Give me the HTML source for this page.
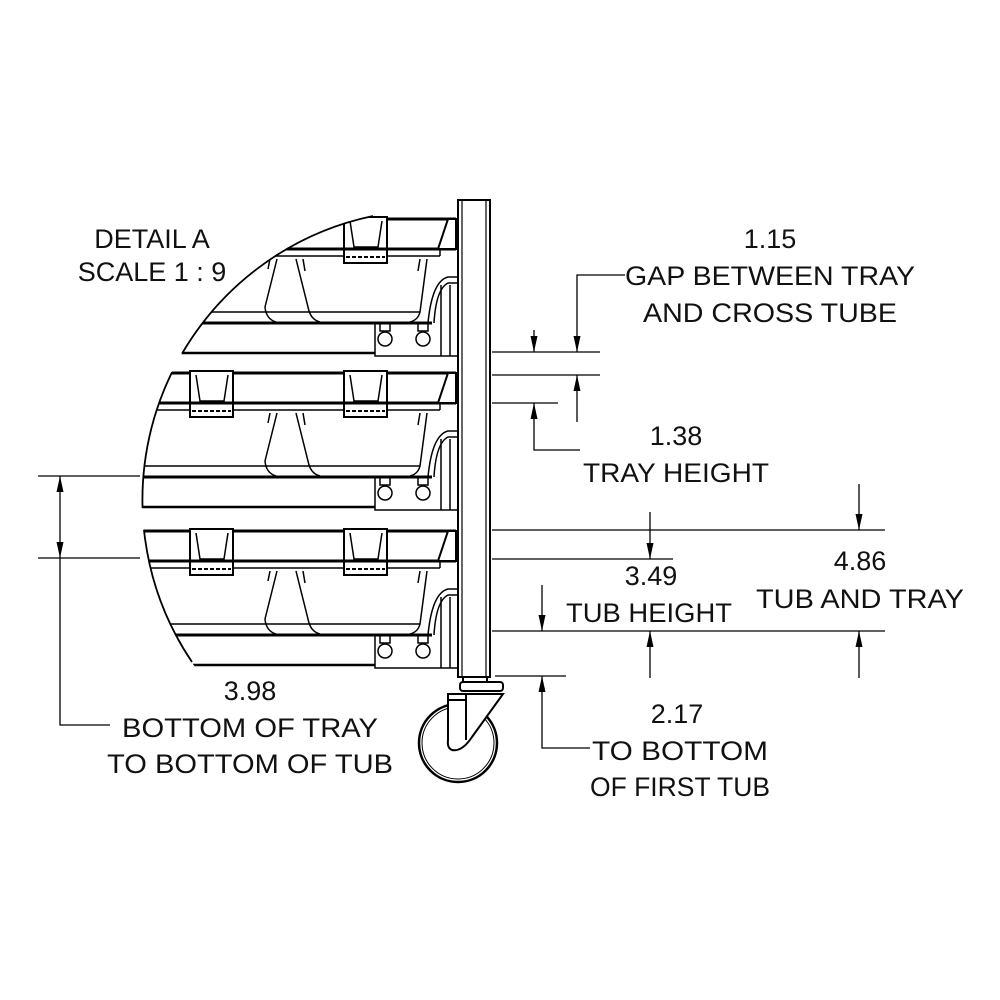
<!DOCTYPE html>
<html><head><style>
html,body{margin:0;padding:0;background:#fff;}
svg{display:block}
text{font-family:"Liberation Sans",sans-serif;font-size:27px;fill:#111;text-anchor:middle}
</style></head><body>
<svg width="1000" height="1000" viewBox="0 0 1000 1000" xmlns="http://www.w3.org/2000/svg">
<defs>
<clipPath id="c"><circle cx="432" cy="500" r="290"/></clipPath>
<clipPath id="bands">
  <rect x="0" y="200" width="500" height="153"/>
  <rect x="0" y="372" width="500" height="136"/>
  <rect x="0" y="530" width="500" height="136"/>
</clipPath>
<marker id="a" viewBox="0 0 10 10" refX="10" refY="5" markerWidth="16" markerHeight="7" preserveAspectRatio="none" orient="auto" markerUnits="userSpaceOnUse"><path d="M0,0 L10,5 L0,10z" fill="#000"/></marker>
<g id="row" fill="none" stroke="#000" stroke-width="1.5">
  <line x1="100" y1="0" x2="456" y2="0" stroke-width="3"/>
  <line x1="100" y1="30" x2="456" y2="30" stroke-width="3"/>
  <path d="M448,0 L456,0 L456,30 L438,30 Z" fill="#fff" stroke-width="2"/>
  <line x1="100" y1="37" x2="440" y2="37"/>
  <line x1="440" y1="30" x2="440" y2="37"/>
  <g id="clip">
   <rect x="190" y="-2" width="43" height="46" fill="#fff" stroke-width="2"/>
   <path d="M196,2 L200,28 L224,28 L228,2" />
   <line x1="190" y1="30" x2="233" y2="30" stroke-width="3"/>
   <line x1="192" y1="38" x2="231" y2="38" stroke-width="2" stroke-dasharray="4 2"/>
  </g>
  <use href="#clip" x="154"/>
  <path d="M277,40 L265,88 Q266,100 276,103"/>
  <path d="M270,40 L268,50"/>
  <path d="M296,40 L309,92 Q312,101 320,103"/>
  <path d="M303,40 L305,52"/>
  <path d="M427,40 L420,93 Q418,101 410,103"/>
  <path d="M420,40 L418,52"/>
  <line x1="100" y1="93" x2="420" y2="93"/>
  <line x1="100" y1="104" x2="432" y2="104" stroke-width="3"/>
  <line x1="100" y1="134" x2="375" y2="134" stroke-width="2.5"/>
  <path d="M375,104 L375,137 L458,137"/>
  <circle cx="385" cy="120" r="7" fill="#fff"/>
  <circle cx="423" cy="120" r="7" fill="#fff"/>
  <rect x="380" y="104" width="10" height="8"/>
  <rect x="418" y="104" width="10" height="8"/>
  <path d="M428,104 Q432,62 448,58 L458,58"/>
  <path d="M434,104 Q436,70 448,64 L458,64"/>
  <line x1="441" y1="66" x2="441" y2="137"/>
  <line x1="450" y1="66" x2="450" y2="137"/>
</g>
</defs>

<g clip-path="url(#c)">
  <use href="#row" y="219"/>
  <use href="#row" y="373"/>
  <use href="#row" y="531"/>
</g>
<path d="M373,216 A290,290 0 0 0 192,662" fill="none" stroke="#000" stroke-width="1.8" clip-path="url(#bands)"/>

<g fill="none" stroke="#000" stroke-width="2">
  <rect x="458" y="200" width="32" height="477" fill="#fff"/>
  <line x1="462" y1="200" x2="462" y2="677" stroke-width="1.2"/>
  <line x1="486" y1="200" x2="486" y2="677" stroke-width="1.2"/>
  <rect x="463" y="677" width="24" height="5"/>
  <rect x="460" y="682" width="43" height="9" rx="3"/>
  <circle cx="458" cy="743" r="39" stroke-width="2.5"/>
  <circle cx="458" cy="743" r="36" stroke-width="1"/>
  <path d="M448,694 L503,694 L472,737 Q462,752 452,750 Q447,748 448,740 Z" fill="#fff"/>
  <line x1="466" y1="694" x2="466" y2="740"/>
  <line x1="449" y1="700" x2="466" y2="700"/>
</g>

<g stroke="#000" stroke-width="1.3" fill="none">
  <line x1="492" y1="352" x2="600" y2="352"/>
  <line x1="492" y1="375" x2="600" y2="375"/>
  <line x1="492" y1="403" x2="558" y2="403"/>
  <line x1="492" y1="530" x2="885" y2="530"/>
  <line x1="492" y1="559" x2="673" y2="559"/>
  <line x1="492" y1="631" x2="885" y2="631"/>
  <line x1="495" y1="676" x2="566" y2="676"/>
  <path d="M625,275 L577,275 L577,352" marker-end="url(#a)"/>
  <path d="M577,422 L577,375" marker-end="url(#a)"/>
  <path d="M534,330 L534,352" marker-end="url(#a)"/>
  <path d="M580,450 L534,450 L534,403" marker-end="url(#a)"/>
  <path d="M859,484 L859,530" marker-end="url(#a)"/>
  <path d="M859,678 L859,631" marker-end="url(#a)"/>
  <path d="M650,512 L650,559" marker-end="url(#a)"/>
  <path d="M650,678 L650,631" marker-end="url(#a)"/>
  <path d="M542,585 L542,631" marker-end="url(#a)"/>
  <path d="M590,748 L542,748 L542,676" marker-end="url(#a)"/>
  <line x1="38" y1="476" x2="140" y2="476"/>
  <line x1="38" y1="558" x2="140" y2="558"/>
  <path d="M60,517 L60,476" marker-end="url(#a)"/>
  <path d="M60,517 L60,558" marker-end="url(#a)"/>
  <path d="M60,558 L60,725 L110,725"/>
</g>

<text x="152" y="248">DETAIL A</text>
<text x="152" y="281">SCALE 1 : 9</text>
<text x="770" y="248">1.15</text>
<text x="770" y="285" textLength="290" lengthAdjust="spacingAndGlyphs">GAP BETWEEN TRAY</text>
<text x="770" y="322" textLength="254" lengthAdjust="spacingAndGlyphs">AND CROSS TUBE</text>
<text x="676" y="445">1.38</text>
<text x="676" y="482" textLength="186" lengthAdjust="spacingAndGlyphs">TRAY HEIGHT</text>
<text x="651" y="585">3.49</text>
<text x="649" y="622" textLength="166" lengthAdjust="spacingAndGlyphs">TUB HEIGHT</text>
<text x="860" y="570">4.86</text>
<text x="860" y="608" textLength="208" lengthAdjust="spacingAndGlyphs">TUB AND TRAY</text>
<text x="250" y="700">3.98</text>
<text x="250" y="737" textLength="256" lengthAdjust="spacingAndGlyphs">BOTTOM OF TRAY</text>
<text x="250" y="773" textLength="286" lengthAdjust="spacingAndGlyphs">TO BOTTOM OF TUB</text>
<text x="677" y="723">2.17</text>
<text x="680" y="760" textLength="176" lengthAdjust="spacingAndGlyphs">TO BOTTOM</text>
<text x="680" y="796" textLength="180" lengthAdjust="spacingAndGlyphs">OF FIRST TUB</text>
</svg>
</body></html>
